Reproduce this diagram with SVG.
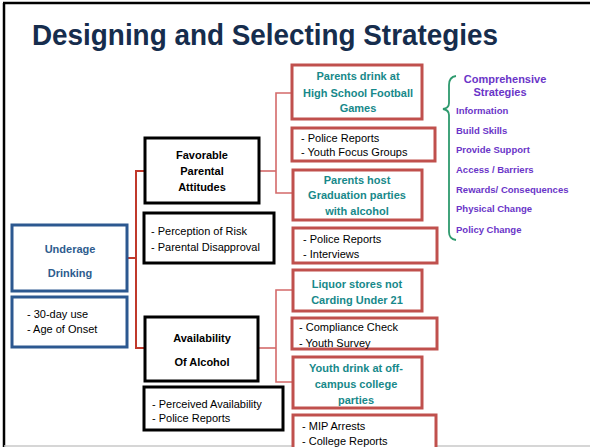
<svg xmlns="http://www.w3.org/2000/svg" width="590" height="447" viewBox="0 0 590 447">
<style>
text{font-family:"Liberation Sans",Arial,sans-serif}
.title{font-size:30px;font-weight:bold;fill:#162d4d}
.blk{fill:#fff;stroke:#000;stroke-width:3}
.blu{fill:#fff;stroke:#2c5890;stroke-width:3}
.red{fill:#fff;stroke:#c0504d;stroke-width:3}
.hb{font-size:11px;font-weight:bold;fill:#000;text-anchor:middle}
.bt{font-size:11px;font-weight:bold;fill:#2e5c8e;text-anchor:middle}
.tl{font-size:11px;font-weight:bold;fill:#17898a;text-anchor:middle}
.lst{font-size:11px;fill:#000}
.ps{font-size:11px;font-weight:bold;fill:#6a35c8;text-anchor:middle}
.pi{font-size:9.5px;font-weight:bold;fill:#6a35c8}
.c1{fill:none;stroke:#c0392b;stroke-width:2}
.c2{fill:none;stroke:#d46a6a;stroke-width:1.6}
</style>
<g id="frame">
<line x1="4" y1="3" x2="4" y2="447" stroke="#000" stroke-width="2.5"/>
<line x1="3" y1="3" x2="590" y2="3" stroke="#000" stroke-width="2.5"/>
<line x1="4" y1="446" x2="590" y2="446" stroke="#c8c8c8" stroke-width="1.5"/>
</g>
<text class="title" x="32" y="45" textLength="466" lengthAdjust="spacingAndGlyphs">Designing and Selecting Strategies</text>
<g id="connectors">
<polyline class="c1" points="127,258 136,258"/>
<polyline class="c1" points="145,171 136,171 136,348 145,348"/>
<polyline class="c2" points="259,171 276,171"/>
<polyline class="c2" points="292,93 276,93 276,193 293,193"/>
<polyline class="c2" points="258,348 276,348"/>
<polyline class="c2" points="293,290 276,290 276,382 293,382"/>
</g>
<g id="underage">
<rect class="blu" x="12" y="225" width="115" height="66"/>
<text class="bt" x="70" y="253">Underage</text>
<text class="bt" x="70" y="277">Drinking</text>
</g>
<g id="underage-measures">
<rect class="blu" x="12" y="297" width="115" height="50"/>
<text class="lst" x="27" y="318">- 30-day use</text>
<text class="lst" x="27" y="333">- Age of Onset</text>
</g>
<g id="favorable">
<rect class="blk" x="145" y="138" width="114" height="65"/>
<text class="hb" x="202" y="159">Favorable</text>
<text class="hb" x="202" y="175">Parental</text>
<text class="hb" x="202" y="191">Attitudes</text>
</g>
<g id="favorable-measures">
<rect class="blk" x="144" y="213" width="130" height="50"/>
<text class="lst" x="151" y="235">- Perception of Risk</text>
<text class="lst" x="151" y="251">- Parental Disapproval</text>
</g>
<g id="availability">
<rect class="blk" x="145" y="317" width="113" height="64"/>
<text class="hb" x="202" y="342">Availability</text>
<text class="hb" x="202" y="366">Of Alcohol</text>
</g>
<g id="availability-measures">
<rect class="blk" x="144" y="387" width="139" height="43"/>
<text class="lst" x="152" y="408">- Perceived Availability</text>
<text class="lst" x="152" y="422">- Police Reports</text>
</g>
<g id="parents-drink">
<rect class="red" x="292" y="65" width="130" height="54"/>
<text class="tl" x="358" y="80">Parents drink at</text>
<text class="tl" x="358" y="97">High School Football</text>
<text class="tl" x="358" y="112">Games</text>
</g>
<g id="parents-drink-measures">
<rect class="red" x="292" y="128" width="143" height="33"/>
<text class="lst" x="301" y="142">- Police Reports</text>
<text class="lst" x="301" y="156">- Youth Focus Groups</text>
</g>
<g id="parents-host">
<rect class="red" x="293" y="170" width="129" height="50"/>
<text class="tl" x="357" y="184">Parents host</text>
<text class="tl" x="357" y="199">Graduation parties</text>
<text class="tl" x="357" y="215">with alcohol</text>
</g>
<g id="parents-host-measures">
<rect class="red" x="293" y="228" width="144" height="35"/>
<text class="lst" x="303" y="243">- Police Reports</text>
<text class="lst" x="303" y="258">- Interviews</text>
</g>
<g id="liquor">
<rect class="red" x="293" y="270" width="129" height="41"/>
<text class="tl" x="357" y="288">Liquor stores not</text>
<text class="tl" x="357" y="304">Carding Under 21</text>
</g>
<g id="liquor-measures">
<rect class="red" x="292" y="318" width="145" height="31"/>
<text class="lst" x="299" y="331">- Compliance Check</text>
<text class="lst" x="299" y="347">- Youth Survey</text>
</g>
<g id="youth-drink">
<rect class="red" x="293" y="357" width="129" height="51"/>
<text class="tl" x="356" y="372">Youth drink at off-</text>
<text class="tl" x="356" y="388">campus college</text>
<text class="tl" x="356" y="404">parties</text>
</g>
<g id="youth-drink-measures">
<rect class="red" x="293" y="415" width="143" height="40"/>
<text class="lst" x="302" y="430">- MIP Arrests</text>
<text class="lst" x="302" y="445">- College Reports</text>
</g>
<g id="strategies">
<path d="M456,76 Q449,77 449,85 L449,103 Q449,108 443,109 Q449,110 449,115 L449,232 Q449,239 456,240" fill="none" stroke="#2e9a6e" stroke-width="1.8"/>
<text class="ps" x="505" y="83">Comprehensive</text>
<text class="ps" x="500" y="96">Strategies</text>
<text class="pi" x="456" y="114">Information</text>
<text class="pi" x="456" y="134">Build Skills</text>
<text class="pi" x="456" y="153">Provide Support</text>
<text class="pi" x="456" y="173">Access / Barriers</text>
<text class="pi" x="456" y="193">Rewards/ Consequences</text>
<text class="pi" x="456" y="212">Physical Change</text>
<text class="pi" x="456" y="233">Policy Change</text>
</g>
</svg>
